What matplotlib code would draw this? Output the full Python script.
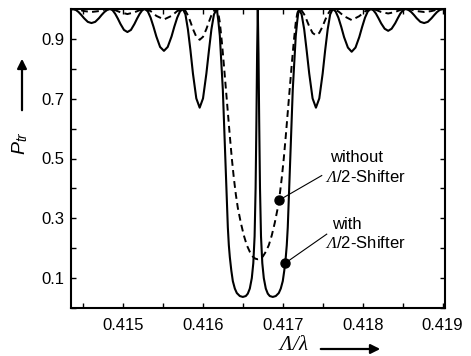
import matplotlib
matplotlib.use('Agg')
import matplotlib.pyplot as plt
from matplotlib.ticker import MultipleLocator

plt.rcParams['font.family'] = ['Liberation Sans', 'DejaVu Sans']
plt.rcParams['mathtext.fontset'] = 'custom'
plt.rcParams['mathtext.rm'] = 'Liberation Serif:italic'
plt.rcParams['mathtext.it'] = 'Liberation Serif:italic'
plt.rcParams['mathtext.sf'] = 'Liberation Sans:italic'

# Transmission mit Lambda/2-Shifter (durchgezogen)
x_with = [0.41434,
          0.414375, 0.41441, 0.414444, 0.414479, 0.414514, 0.41456, 0.414606, 0.414653, 0.414699, 0.414733, 0.414768, 0.414803,
          0.414838, 0.41487, 0.414903, 0.414936, 0.414969, 0.415013, 0.415056, 0.4151, 0.415144, 0.415177, 0.41521, 0.415242,
          0.415275, 0.415311, 0.415346, 0.415382, 0.415418, 0.415465, 0.415513, 0.41556, 0.415608, 0.415643, 0.415679, 0.415714,
          0.41575, 0.415782, 0.415813, 0.415845, 0.415876, 0.415918, 0.41596, 0.416002, 0.416044, 0.416076, 0.416107, 0.416139,
          0.416175, 0.41619375, 0.4162125, 0.41623125, 0.41625, 0.4162625, 0.416275, 0.4162875, 0.4163, 0.4163125,
          0.416325, 0.4163375, 0.41635625, 0.416375, 0.4164, 0.416425, 0.4164625, 0.4165, 0.4165375, 0.4165625,
          0.4165875, 0.4166125, 0.41663125, 0.4166475, 0.41666, 0.41667, 0.41667875,
          0.4166875,
          0.41669625, 0.416705, 0.416715, 0.4167275, 0.41674375, 0.4167625, 0.4167875,
          0.4168125, 0.4168375, 0.416875, 0.4169125, 0.41695, 0.416975, 0.417, 0.41701875, 0.4170375, 0.41705,
          0.4170625, 0.417075, 0.4170875, 0.4171, 0.4171125, 0.417125, 0.41714375, 0.4171625, 0.41718125,
          0.4172, 0.417236, 0.417268, 0.417299, 0.417331, 0.417373, 0.417415, 0.417457, 0.417499, 0.41753, 0.417562, 0.417593,
          0.417625, 0.417661, 0.417696, 0.417732, 0.417767, 0.417815, 0.417862, 0.41791, 0.417957, 0.417993, 0.418029, 0.418064,
          0.4181, 0.418133, 0.418165, 0.418198, 0.418231, 0.418275, 0.418319, 0.418362, 0.418406, 0.418439, 0.418472, 0.418505,
          0.418537, 0.418572, 0.418607, 0.418642, 0.418676, 0.418722, 0.418769, 0.418815, 0.418861, 0.418896, 0.418931, 0.418965,
          0.419, 0.41905]
p_with = [0.997,
          1.0, 0.997, 0.99, 0.98, 0.969, 0.957, 0.953, 0.957, 0.969, 0.98, 0.99, 0.997,
          1.0, 0.996, 0.984, 0.968, 0.95, 0.93, 0.923, 0.93, 0.95, 0.968, 0.984, 0.996,
          1.0, 0.992, 0.971, 0.941, 0.908, 0.873, 0.86, 0.873, 0.908, 0.941, 0.971, 0.992,
          1.0, 0.982, 0.932, 0.861, 0.784, 0.701, 0.67, 0.701, 0.784, 0.861, 0.932, 0.982,
          1.0, 0.96, 0.91, 0.82, 0.73, 0.64, 0.54, 0.45, 0.36, 0.27,
          0.21, 0.17, 0.125, 0.09, 0.065, 0.05, 0.04, 0.037, 0.04, 0.048,
          0.065, 0.1, 0.15, 0.24, 0.4, 0.62, 0.85,
          1.0,
          0.85, 0.62, 0.4, 0.24, 0.15, 0.1, 0.065,
          0.048, 0.04, 0.037, 0.04, 0.05, 0.065, 0.09, 0.125, 0.17, 0.21,
          0.27, 0.36, 0.45, 0.54, 0.64, 0.73, 0.82, 0.91, 0.96,
          1.0, 0.982, 0.932, 0.861, 0.784, 0.701, 0.67, 0.701, 0.784, 0.861, 0.932, 0.982,
          1.0, 0.992, 0.971, 0.94, 0.906, 0.871, 0.857, 0.871, 0.906, 0.94, 0.971, 0.992,
          1.0, 0.996, 0.985, 0.969, 0.952, 0.934, 0.927, 0.934, 0.952, 0.969, 0.985, 0.996,
          1.0, 0.997, 0.99, 0.98, 0.969, 0.957, 0.953, 0.957, 0.969, 0.98, 0.99, 0.997,
          1.0, 0.997]

# Transmission ohne Shifter (gestrichelt)
x_without = [0.41434,
             0.414375, 0.414444, 0.414514, 0.414606, 0.414699, 0.414768,
             0.414838, 0.414903, 0.414969, 0.415056, 0.415144, 0.41521,
             0.415275, 0.415346, 0.415418, 0.415513, 0.415608, 0.415679,
             0.41575, 0.415782, 0.415813, 0.415845, 0.415876, 0.415918, 0.41596, 0.416002, 0.416044, 0.416076, 0.416107, 0.416139,
             0.416175, 0.41619375, 0.4162125, 0.4162375, 0.4162625, 0.4162875, 0.4163125, 0.4163375, 0.4163625,
             0.4163875, 0.4164125, 0.4164375, 0.416475, 0.4165125, 0.41655, 0.4165875, 0.416625, 0.41665625,
             0.4166875,
             0.41671875, 0.41675, 0.4167875, 0.416825, 0.4168625, 0.4169, 0.4169375, 0.4169625, 0.4169875,
             0.4170125, 0.4170375, 0.4170625, 0.4170875, 0.4171125, 0.4171375, 0.4171625, 0.41718125,
             0.4172, 0.417236, 0.417268, 0.417299, 0.417331, 0.417373, 0.417415, 0.417457, 0.417499, 0.41753, 0.417562, 0.417593,
             0.417625, 0.417696, 0.417767, 0.417862, 0.417957, 0.418029,
             0.4181, 0.418165, 0.418231, 0.418319, 0.418406, 0.418472,
             0.418537, 0.418607, 0.418676, 0.418769, 0.418861, 0.418931,
             0.419, 0.41905]
p_without = [0.999,
             1.0, 0.998, 0.993, 0.99, 0.993, 0.998,
             1.0, 0.996, 0.989, 0.983, 0.989, 0.996,
             1.0, 0.993, 0.977, 0.965, 0.977, 0.993,
             1.0, 0.994, 0.979, 0.957, 0.933, 0.907, 0.897, 0.907, 0.933, 0.957, 0.979, 0.994,
             1.0, 0.985, 0.955, 0.89, 0.815, 0.735, 0.655, 0.575, 0.5,
             0.435, 0.38, 0.335, 0.285, 0.243, 0.21, 0.188, 0.172, 0.165,
             0.163,
             0.165, 0.172, 0.188, 0.21, 0.243, 0.285, 0.335, 0.38, 0.435,
             0.5, 0.575, 0.655, 0.735, 0.815, 0.89, 0.955, 0.985,
             1.0, 0.995, 0.982, 0.963, 0.942, 0.92, 0.912, 0.92, 0.942, 0.963, 0.982, 0.995,
             1.0, 0.992, 0.976, 0.963, 0.976, 0.992,
             1.0, 0.997, 0.99, 0.985, 0.99, 0.997,
             1.0, 0.998, 0.993, 0.99, 0.993, 0.998,
             1.0, 0.998]

# markierte Punkte
mark_without = (0.41695, 0.36)
mark_with = (0.41703, 0.15)

x_ticks = [0.415, 0.416, 0.417, 0.418, 0.419]
x_labels = ['0.415', '0.416', '0.417', '0.418', '0.419']
y_ticks = [0.1, 0.3, 0.5, 0.7, 0.9]
y_labels = ['0.1', '0.3', '0.5', '0.7', '0.9']

fig = plt.figure(figsize=(4.71, 3.56), dpi=100)
ax = fig.add_axes([71/471, 1-308/356, (445-71)/471, (308-9)/356])

ax.plot(x_with, p_with, color='black', lw=1.5, solid_joinstyle='round')
ax.plot(x_without, p_without, color='black', lw=1.4, dashes=(3.5, 2.2))
ax.plot(*mark_without, 'o', color='black', ms=6.5)
ax.plot(*mark_with, 'o', color='black', ms=6.5)

# Beschriftungen mit Linien
ax.plot([mark_without[0], 0.4174875], [mark_without[1], 0.443], color='black', lw=0.8)
ax.plot([mark_with[0], 0.41755], [mark_with[1], 0.247], color='black', lw=0.8)
ax.text(0.4175875, 0.503, 'without', fontsize=12, va='center', ha='left')
ax.text(0.41753, 0.437, r'$\Lambda$/2-Shifter', fontsize=12, va='center', ha='left')
ax.text(0.4176125, 0.28, 'with', fontsize=12, va='center', ha='left')
ax.text(0.41753, 0.217, r'$\Lambda$/2-Shifter', fontsize=12, va='center', ha='left')

ax.set_xlim(0.41435, 0.41903)
ax.set_ylim(0.0, 1.0)
ax.set_xticks(x_ticks)
ax.set_xticklabels(x_labels)
ax.set_yticks(y_ticks)
ax.set_yticklabels(y_labels)
ax.xaxis.set_minor_locator(MultipleLocator(0.0005))
ax.yaxis.set_minor_locator(MultipleLocator(0.1))
ax.tick_params(which='both', direction='in', top=True, right=True, length=3.6, width=1.0,
               labelsize=12)
ax.tick_params(axis='x', pad=7)
ax.tick_params(axis='y', pad=5)
for s in ax.spines.values():
    s.set_linewidth(1.5)

# Achsentitel mit Pfeilen
fig.text(20/471, 1-143/356, r'$\mathsf{P}_{\mathsf{tr}}$', rotation=90, fontsize=14,
         ha='center', va='center')
fig.add_artist(matplotlib.patches.FancyArrowPatch((22/471, 1-113/356), (22/471, 1-56/356),
               transform=fig.transFigure, arrowstyle='-|>', mutation_scale=14,
               lw=1.6, color='black'))
fig.text(293/471, 1-344/356, r'$\Lambda/\lambda$', fontsize=15, ha='center', va='center')
fig.add_artist(matplotlib.patches.FancyArrowPatch((318/471, 1-349/356), (383/471, 1-349/356),
               transform=fig.transFigure, arrowstyle='-|>', mutation_scale=14,
               lw=1.6, color='black'))

fig.savefig('out.png', dpi=100)
